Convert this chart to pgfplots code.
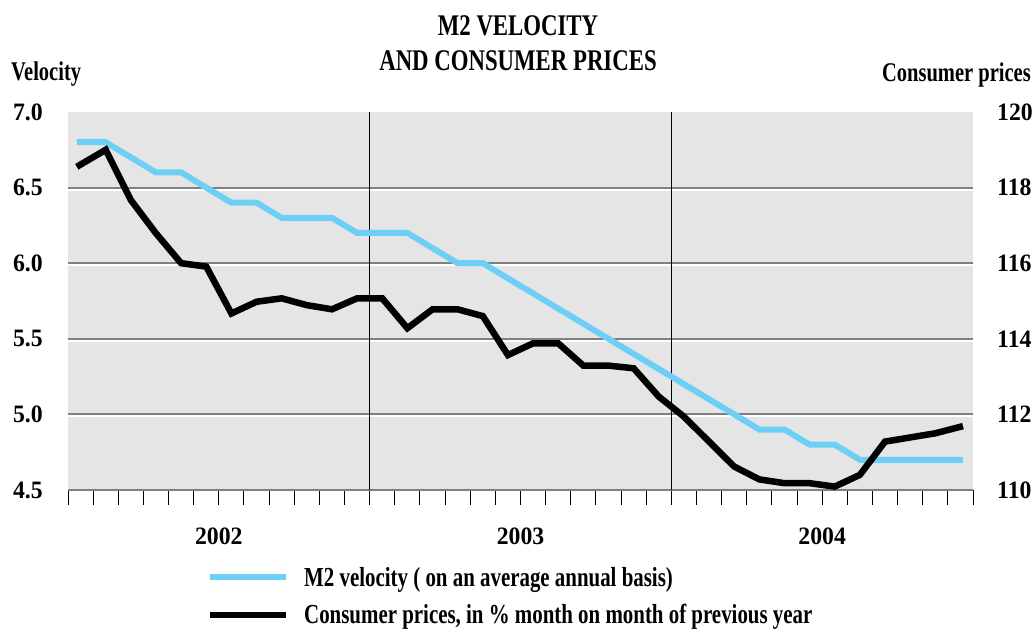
\documentclass[border=0pt]{standalone}
\usepackage{fontspec}
\setmainfont{Liberation Serif}[UprightFont={* Bold}, FakeStretch=0.76]
\newfontfamily\numfont{Liberation Serif}[UprightFont={* Bold}, FakeStretch=0.95]
\usepackage{pgfplots}
\usepackage{pgfplotstable}
\pgfplotsset{compat=1.18}
\definecolor{bgGray}{RGB}{229,229,229}
\definecolor{gridGray}{RGB}{128,128,128}
\definecolor{velBlue}{RGB}{109,207,246}

\pgfplotstableread{
x v
0.35 6.8
1.5 6.8
2.5 6.7
3.5 6.6
4.5 6.6
5.5 6.5
6.5 6.4
7.5 6.4
8.5 6.3
9.5 6.3
10.5 6.3
11.5 6.2
12.5 6.2
13.5 6.2
14.5 6.1
15.5 6.0
16.5 6.0
17.5 5.9
18.5 5.8
19.5 5.7
20.5 5.6
21.5 5.5
22.5 5.4
23.5 5.3
24.5 5.2
25.5 5.1
26.5 5.0
27.5 4.9
28.5 4.9
29.5 4.8
30.5 4.8
31.5 4.7
32.5 4.7
33.5 4.7
34.5 4.7
35.6 4.7
}\veltable

\pgfplotstableread{
x p
0.35 118.55
1.5 119.0
2.5 117.67
3.5 116.79
4.5 116.0
5.5 115.91
6.5 114.67
7.5 114.98
8.5 115.07
9.5 114.89
10.5 114.78
11.5 115.07
12.5 115.07
13.5 114.28
14.5 114.78
15.5 114.78
16.5 114.60
17.5 113.57
18.5 113.88
19.5 113.88
20.5 113.29
21.5 113.29
22.5 113.22
23.5 112.47
24.5 111.94
25.5 111.28
26.5 110.62
27.5 110.28
28.5 110.18
29.5 110.18
30.5 110.09
31.5 110.40
32.5 111.28
33.5 111.39
34.5 111.50
35.6 111.69
}\cpitable

\newcommand{\txtfont}{\fontsize{27bp}{32bp}\selectfont}
\newcommand{\legfont}{\fontsize{27.5bp}{32bp}\selectfont}
\newcommand{\tickfont}{\numfont\fontsize{25bp}{30bp}\selectfont}

\begin{document}
\begin{tikzpicture}[x=1bp,y=1bp]
\path[use as bounding box] (0,0) rectangle (1034,630);
\node[anchor=base, inner sep=0pt, font=\fontsize{30bp}{34bp}\selectfont] at (518,594) {M2 VELOCITY};
\node[anchor=base, inner sep=0pt, font=\fontsize{30bp}{34bp}\selectfont] at (518,559) {AND CONSUMER PRICES};
\node[anchor=base west, inner sep=0pt, font=\txtfont] at (11,549) {Velocity};
\node[anchor=base east, inner sep=0pt, font=\txtfont] at (1031,548) {Consumer prices};

\begin{axis}[
  at={(68bp,140bp)}, anchor=south west, scale only axis,
  width=905bp, height=378bp,
  xmin=0, xmax=36, ymin=4.5, ymax=7,
  axis background/.style={fill=bgGray},
  axis x line*=bottom, axis y line*=left,
  x axis line style={draw=gridGray, line width=2bp, -},
  y axis line style={draw=none},
  xtick={0,...,36}, xticklabels={},
  tick align=outside, major tick length=15bp,
  xtick style={draw=black, line width=1bp},
  ytick={4.5,5,5.5,6,6.5,7}, ytick style={draw=none},
  /pgf/number format/assume math mode=true,
  yticklabel style={font=\tickfont, anchor=east, inner sep=0pt, xshift=-10bp,
    /pgf/number format/fixed, /pgf/number format/fixed zerofill, /pgf/number format/precision=1},
  extra x ticks={6,18,30}, extra x tick labels={2002,2003,2004},
  extra x tick style={major tick length=0pt, xticklabel style={font=\tickfont, inner sep=0pt, anchor=north, yshift=-38bp}},
  legend style={at={(0.1536,-0.203)}, anchor=north west, draw=none, fill=none, inner sep=0pt,
    row sep=17bp, column sep=15bp, font=\legfont, nodes={inner sep=0pt}},
  legend cell align=left,
  legend image code/.code={\draw[#1, line width=6bp] (0bp,0bp) -- (76bp,0bp);},
]
\pgfplotsinvokeforeach{5,5.5,6,6.5}{
  \draw[white, line width=2bp] ([yshift=-2bp]axis cs:0,#1) -- ([yshift=-2bp]axis cs:36,#1);
  \draw[gridGray, line width=2bp] (axis cs:0,#1) -- (axis cs:36,#1);
}
\draw[black, line width=1.2bp] (axis cs:12,7) -- (axis cs:12,4.5) -- ++(0,-15bp);
\draw[black, line width=1.2bp] (axis cs:24,7) -- (axis cs:24,4.5) -- ++(0,-15bp);
\addplot[velBlue, line width=6bp] table[x=x, y=v] {\veltable};
\addlegendentry{M2 velocity ( on an average annual basis)}
\addlegendimage{black, line width=6.5bp}
\addlegendentry{Consumer prices, in \% month on month of previous year}
\end{axis}

\begin{axis}[
  at={(68bp,140bp)}, anchor=south west, scale only axis,
  width=905bp, height=378bp,
  xmin=0, xmax=36, ymin=110, ymax=120,
  axis x line=none, axis y line*=right,
  y axis line style={draw=none},
  ytick={110,112,...,120}, ytick style={draw=none}, major tick length=0pt,
  /pgf/number format/assume math mode=true,
  yticklabel style={font=\tickfont, anchor=west, inner sep=0pt, xshift=24bp},
]
\addplot[black, line width=6.5bp] table[x=x, y=p] {\cpitable};
\end{axis}
\end{tikzpicture}
\end{document}
